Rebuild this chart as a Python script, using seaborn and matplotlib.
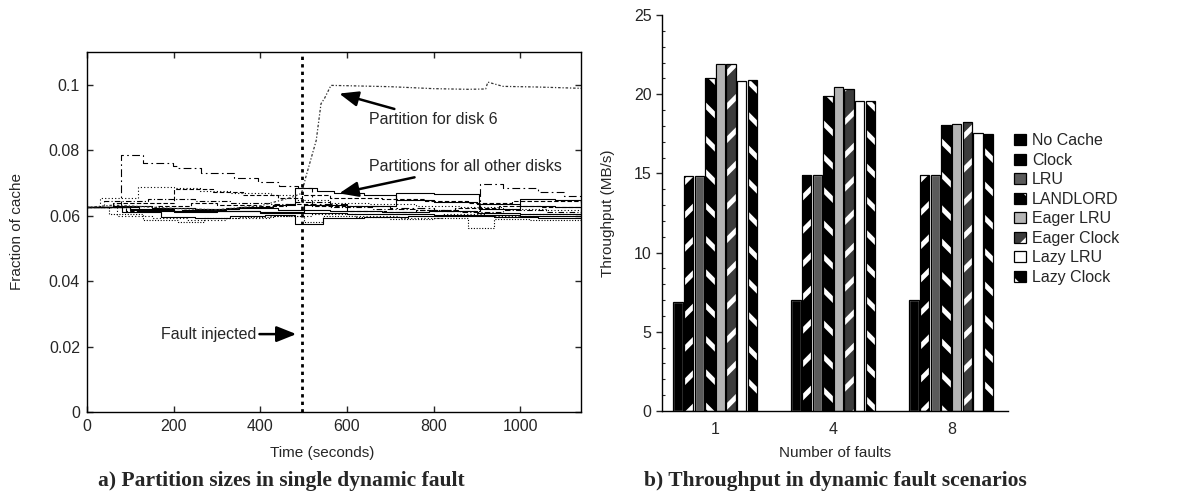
import numpy as np
import pandas as pd
import matplotlib
matplotlib.use("Agg")
import matplotlib.pyplot as plt
from matplotlib.patches import Patch, Rectangle
from matplotlib.legend_handler import HandlerTuple
from matplotlib.ticker import FuncFormatter, MultipleLocator
import seaborn as sns

# ---------------- data: partition sizes (fraction of cache) ----------------
disk6_t = [0, 60, 120, 200, 300, 400, 470, 495, 505, 529, 540, 548, 563, 600, 700, 800, 880, 920, 925, 960, 1040, 1140]
disk6_v = [0.0625, 0.0632, 0.0628, 0.0622, 0.0618, 0.0630, 0.0655, 0.0668, 0.0718, 0.0830, 0.0942, 0.0958, 0.0998,
           0.0997, 0.0994, 0.0988, 0.0986, 0.0987, 0.1008, 0.0995, 0.0993, 0.0989]

diskA_t = [0, 78, 129, 198, 209, 264, 340, 394, 444, 486, 520, 600, 700, 800, 908, 960, 1040, 1100, 1140]
diskA_v = [0.0625, 0.0784, 0.0762, 0.0752, 0.0747, 0.0730, 0.0716, 0.0702, 0.0690, 0.0684, 0.0635, 0.0630, 0.0622,
           0.0615, 0.0697, 0.0685, 0.0672, 0.0660, 0.0655]
diskB_t = [0, 60, 150, 250, 350, 430, 479, 530, 571, 640, 713, 800, 900, 1000, 1080, 1140]
diskB_v = [0.0625, 0.0630, 0.0624, 0.0620, 0.0626, 0.0632, 0.0684, 0.0676, 0.0668, 0.0662, 0.0648, 0.0642, 0.0636,
           0.0630, 0.0626, 0.0622]
diskC_t = [0, 100, 200, 300, 400, 500, 600, 713, 800, 905, 1000, 1080, 1140]
diskC_v = [0.0625, 0.0618, 0.0612, 0.0615, 0.0610, 0.0632, 0.0628, 0.0670, 0.0667, 0.0621, 0.0652, 0.0648, 0.0642]
diskD_t = [0, 30, 118, 200, 260, 330, 425, 480, 560, 650, 760, 860, 960, 1060, 1140]
diskD_v = [0.0625, 0.0655, 0.0686, 0.0684, 0.0676, 0.0670, 0.0662, 0.0648, 0.0640, 0.0636, 0.0630, 0.0625, 0.0620,
           0.0618, 0.0615]
diskE_t = [0, 60, 200, 290, 360, 440, 495, 560, 680, 780, 880, 980, 1140]
diskE_v = [0.0625, 0.0640, 0.0680, 0.0672, 0.0662, 0.0655, 0.0662, 0.0655, 0.0650, 0.0644, 0.0640, 0.0646, 0.0638]
diskF_t = [0, 50, 130, 210, 270, 350, 430, 500, 545, 620, 700, 800, 880, 940, 1020, 1140]
diskF_v = [0.0625, 0.0605, 0.0588, 0.0580, 0.0592, 0.0596, 0.0600, 0.0582, 0.0598, 0.0596, 0.0590, 0.0592, 0.0562,
           0.0590, 0.0588, 0.0585]
diskG_t = [0, 80, 170, 250, 330, 410, 480, 545, 640, 740, 840, 940, 1040, 1140]
diskG_v = [0.0625, 0.0610, 0.0596, 0.0592, 0.0598, 0.0603, 0.0575, 0.0592, 0.0596, 0.0600, 0.0598, 0.0596, 0.0594,
           0.0592]
diskH_t = [0, 100, 200, 300, 400, 500, 600, 700, 800, 900, 1000, 1140]
diskH_v = [0.0625, 0.0621, 0.0615, 0.0613, 0.0609, 0.0608, 0.0605, 0.0604, 0.0602, 0.0603, 0.0600, 0.0598]
diskI_t = [0, 90, 160, 240, 300, 390, 460, 520, 600, 690, 760, 850, 950, 1050, 1140]
diskI_v = [0.0625, 0.0615, 0.0630, 0.0640, 0.0634, 0.0628, 0.0636, 0.0630, 0.0615, 0.0612, 0.0618, 0.0624, 0.0630,
           0.0626, 0.0620]
diskJ_t = [0, 70, 150, 230, 320, 420, 520, 620, 720, 820, 920, 1020, 1140]
diskJ_v = [0.0625, 0.0600, 0.0594, 0.0588, 0.0594, 0.0598, 0.0606, 0.0600, 0.0594, 0.0606, 0.0598, 0.0605, 0.0600]
diskK_t = [0, 40, 140, 250, 330, 420, 480, 560, 660, 760, 860, 960, 1060, 1140]
diskK_v = [0.0625, 0.0645, 0.0650, 0.0646, 0.0640, 0.0636, 0.0642, 0.0625, 0.0620, 0.0616, 0.0612, 0.0616, 0.0612,
           0.0610]
diskL_t = [0, 120, 220, 320, 440, 560, 680, 790, 900, 1000, 1140]
diskL_v = [0.0625, 0.0614, 0.0618, 0.0622, 0.0618, 0.0614, 0.0610, 0.0613, 0.0608, 0.0606, 0.0604]

fault_time = 495

# ---------------- data: throughput per replacement policy ----------------
fault_counts = ["1", "4", "8"]
policies = ["No Cache", "Clock", "LRU", "LANDLORD", "Eager LRU", "Eager Clock", "Lazy LRU", "Lazy Clock"]
tp_no_cache = [6.9, 7.0, 7.0]
tp_clock = [14.85, 14.9, 14.9]
tp_lru = [14.85, 14.9, 14.9]
tp_landlord = [21.05, 19.9, 18.05]
tp_eager_lru = [21.9, 20.45, 18.15]
tp_eager_clock = [21.9, 20.35, 18.25]
tp_lazy_lru = [20.85, 19.55, 17.55]
tp_lazy_clock = [20.9, 19.55, 17.5]

# ---------------- style ----------------
sns.set_theme(style="ticks")
plt.rcParams["font.family"] = ["Liberation Sans", "DejaVu Sans"]
plt.rcParams["hatch.linewidth"] = 3.5
plt.rcParams["axes.linewidth"] = 1.0
FS_TICK = 11.5
FS_LABEL = 11
FS_NOTE = 11.5

fig = plt.figure(figsize=(11.97, 4.99), dpi=100)
W, H = 1197, 499
ax1 = fig.add_axes([87 / W, 1 - 412 / H, (581 - 87) / W, (412 - 52) / H])
ax2 = fig.add_axes([662 / W, 1 - 411 / H, (1008 - 662) / W, (411 - 15) / H])

# ---------------- left panel: partition sizes ----------------
other_lines = [
    (diskA_t, diskA_v, (7, 3, 1.5, 3)),
    (diskB_t, diskB_v, ""),
    (diskC_t, diskC_v, ""),
    (diskD_t, diskD_v, (1, 2)),
    (diskE_t, diskE_v, (4, 2)),
    (diskF_t, diskF_v, (1, 1.5)),
    (diskG_t, diskG_v, ""),
    (diskH_t, diskH_v, ""),
    (diskI_t, diskI_v, (4, 2)),
    (diskJ_t, diskJ_v, (1, 2)),
    (diskK_t, diskK_v, (5, 2, 1, 2)),
    (diskL_t, diskL_v, ""),
]
rows = []
for i, (t, v, _) in enumerate(other_lines):
    for tt, vv in zip(t, v):
        rows.append({"disk": f"d{i}", "time": tt, "frac": vv})
parts = pd.DataFrame(rows)
dash_map = {f"d{i}": d for i, (_, _, d) in enumerate(other_lines)}
sns.lineplot(data=parts, x="time", y="frac", hue="disk", style="disk", dashes=dash_map,
             palette=["black"] * len(other_lines), drawstyle="steps-post", lw=0.8,
             legend=False, ax=ax1, estimator=None, sort=False)

d6 = pd.DataFrame({"time": disk6_t, "frac": disk6_v})
sns.lineplot(data=d6, x="time", y="frac", color="#333333", lw=0.9, dashes=False,
             ax=ax1, estimator=None, sort=False)
ax1.lines[-1].set_dashes((2, 1.5, 1, 1.5))

ax1.axvline(fault_time, color="black", lw=2.0, ls=(0, (1.2, 1.5)))

ax1.set_xlim(0, 1140)
ax1.set_ylim(0, 0.11)
ax1.set_xticks([0, 200, 400, 600, 800, 1000])
ax1.set_yticks([0, 0.02, 0.04, 0.06, 0.08, 0.1])
ax1.yaxis.set_major_formatter(FuncFormatter(lambda v, p: f"{v:g}"))
ax1.tick_params(direction="in", length=4, width=1, labelsize=FS_TICK, top=True, right=True, pad=5)
for s in ax1.spines.values():
    s.set_visible(True)
    s.set_color("black")
ax1.set_xlabel("Time (seconds)", fontsize=FS_LABEL)
ax1.set_ylabel("Fraction of cache", fontsize=FS_LABEL)
ax1.xaxis.set_label_coords((322 - 87) / 494, (412 - 446) / 360)
ax1.yaxis.set_label_coords((24 - 87) / 494, 0.5)

arrow = dict(arrowstyle="-|>,head_length=1.0,head_width=0.4", color="black", lw=1.8, shrinkA=0, shrinkB=0)
ax1.annotate("Partition for disk 6", xy=(582, 0.0973), xytext=(650, 0.0893),
             fontsize=FS_NOTE, va="center", ha="left", arrowprops=arrow)
ax1.annotate("Partitions for all other disks", xy=(582, 0.0668), xytext=(650, 0.0750),
             fontsize=FS_NOTE, va="center", ha="left", arrowprops=arrow)
ax1.annotate("", xy=(483, 0.0238), xytext=(398, 0.0238), arrowprops=arrow)
ax1.text(392, 0.0238, "Fault injected", fontsize=FS_NOTE, va="center", ha="right")

# ---------------- right panel: throughput ----------------
tp_table = pd.DataFrame({
    "faults": np.repeat(fault_counts, len(policies)),
    "policy": policies * len(fault_counts),
    "throughput": np.array([tp_no_cache, tp_clock, tp_lru, tp_landlord, tp_eager_lru,
                            tp_eager_clock, tp_lazy_lru, tp_lazy_clock]).T.ravel(),
})
face = {"No Cache": "black", "Clock": "black", "LRU": "#5a5a5a", "LANDLORD": "black",
        "Eager LRU": "#b4b4b4", "Eager Clock": "#3c3c3c", "Lazy LRU": "white", "Lazy Clock": "black"}
hatch = {"No Cache": "", "Clock": "/", "LRU": "", "LANDLORD": "\\", "Eager LRU": "",
         "Eager Clock": "/", "Lazy LRU": "", "Lazy Clock": "\\"}

sns.barplot(data=tp_table, x="faults", y="throughput", hue="policy", hue_order=policies,
            order=fault_counts, palette=[face[p] for p in policies], width=0.72, gap=0.12,
            saturation=1, legend=False, ax=ax2)

for pol, cont in zip(policies, ax2.containers):
    for bar in cont:
        bar.set_facecolor(face[pol])
        if hatch[pol]:
            bar.set_hatch(hatch[pol])
            bar.set_edgecolor("white")
            bar.set_linewidth(0)
        ax2.add_patch(Rectangle(bar.get_xy(), bar.get_width(), bar.get_height(),
                                fill=False, ec="black", lw=0.9, zorder=bar.get_zorder() + 0.1))

ax2.set_xlim(-0.45, 2.48)
ax2.set_ylim(0, 25)
ax2.yaxis.set_major_locator(MultipleLocator(5))
ax2.yaxis.set_minor_locator(MultipleLocator(1))
ax2.tick_params(axis="y", which="major", direction="out", length=4, width=1, labelsize=FS_TICK)
ax2.tick_params(axis="y", which="minor", direction="in", length=2, width=0.8)
ax2.tick_params(axis="x", length=0, labelsize=FS_TICK, pad=8)
sns.despine(ax=ax2)
for s in ("left", "bottom"):
    ax2.spines[s].set_color("black")
ax2.set_xlabel("Number of faults", fontsize=FS_LABEL)
ax2.set_ylabel("Throughput (MB/s)", fontsize=FS_LABEL)
ax2.xaxis.set_label_coords(0.5, (411 - 446) / 396)
ax2.yaxis.set_label_coords((615 - 662) / 346, 0.5)

handles = []
for pol in policies:
    if hatch[pol]:
        h = (Patch(fc=face[pol], hatch=hatch[pol], ec="white", lw=0), Patch(fill=False, ec="black", lw=0.9))
    else:
        h = (Patch(fc=face[pol], ec="black", lw=0.9),)
    handles.append(h)
ax2.legend(handles, policies, handler_map={tuple: HandlerTuple(ndivide=1)},
           loc="center left", bbox_to_anchor=(1.0, 0.51), frameon=False, fontsize=FS_NOTE,
           handlelength=0.7, handleheight=0.7, handletextpad=0.4, labelspacing=0.28,
           borderaxespad=0.0)

# ---------------- captions ----------------
cap = dict(fontsize=15.5, fontweight="bold", family=["Liberation Serif", "DejaVu Serif"], ha="center", va="center")
fig.text(281 / W, 1 - 481 / H, "a) Partition sizes in single dynamic fault", **cap)
fig.text(835 / W, 1 - 481 / H, "b) Throughput in dynamic fault scenarios", **cap)

fig.savefig("out.png", dpi=100, facecolor="white")
